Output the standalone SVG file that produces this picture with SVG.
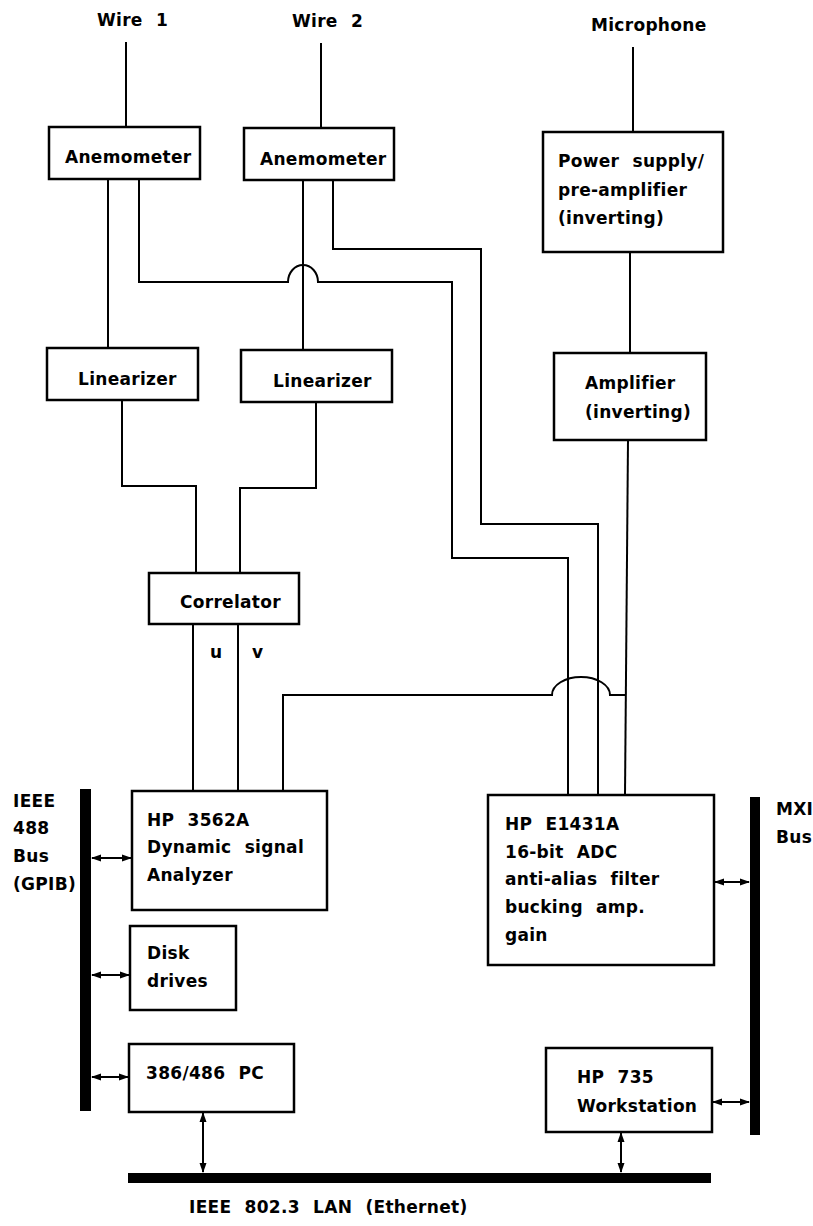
<svg xmlns="http://www.w3.org/2000/svg" width="813" height="1226" viewBox="0 0 813 1226">
<style>
text{font-family:"DejaVu Sans","Liberation Sans",sans-serif;font-weight:bold;font-size:17px;fill:#000;word-spacing:7px;letter-spacing:0.3px}
.box{fill:#fff;stroke:#000;stroke-width:2.5}
.ln{fill:none;stroke:#000;stroke-width:2}
.ar{fill:none;stroke:#000;stroke-width:2;marker-start:url(#ah);marker-end:url(#ah)}
.bus{fill:#000}
</style>
<defs>
<marker id="ah" markerUnits="userSpaceOnUse" markerWidth="10" markerHeight="8" refX="9" refY="4" orient="auto-start-reverse">
<path d="M0,0.5 L10,4 L0,7.5 Z" fill="#000"/>
</marker>
</defs>
<rect width="813" height="1226" fill="#fff"/>
<g id="labels">
<text x="97" y="26">Wire 1</text>
<text x="292" y="27">Wire 2</text>
<text x="591" y="31" style="word-spacing:0">Microphone</text>
<text x="13" y="807">IEEE</text>
<text x="13" y="834">488</text>
<text x="13" y="862">Bus</text>
<text x="13" y="890">(GPIB)</text>
<text x="776" y="815">MXI</text>
<text x="776" y="843">Bus</text>
<text x="189" y="1213">IEEE 802.3 LAN (Ethernet)</text>
<text x="210" y="658">u</text>
<text x="252" y="658">v</text>
</g>
<g id="connectors">
<path class="ln" d="M126 42 V127"/>
<path class="ln" d="M321 43 V128"/>
<path class="ln" d="M633 47 V132"/>
<path class="ln" d="M108 179 V348"/>
<path class="ln" d="M139 179 V282 H288 A15 17 0 0 1 318 282 H452 V558 H568 V795"/>
<path class="ln" d="M303 180 V350"/>
<path class="ln" d="M333 180 V249 H481 V524 H598 V795"/>
<path class="ln" d="M122 400 V486 H196 V573"/>
<path class="ln" d="M316 402 V488 H240 V573"/>
<path class="ln" d="M193 624 V791"/>
<path class="ln" d="M238 624 V791"/>
<path class="ln" d="M630 252 V353"/>
<path class="ln" d="M628 440 L625 795"/>
<path class="ln" d="M283 791 V695 H552 A29 18 0 0 1 610 695 H626"/>
<rect class="bus" x="80" y="789" width="11" height="322"/>
<rect class="bus" x="750" y="797" width="10" height="338"/>
<rect class="bus" x="128" y="1173" width="583" height="10"/>
<path class="ar" d="M92 858 H131"/>
<path class="ar" d="M92 975 H129"/>
<path class="ar" d="M92 1077 H128"/>
<path class="ar" d="M715 882 H749"/>
<path class="ar" d="M713 1102 H749"/>
<path class="ar" d="M203 1113 V1172"/>
<path class="ar" d="M621 1133 V1172"/>
</g>
<g id="anemometer1">
<rect class="box" x="49" y="127" width="151" height="52"/>
<text x="65" y="163">Anemometer</text>
</g>
<g id="anemometer2">
<rect class="box" x="244" y="128" width="150" height="52"/>
<text x="260" y="165">Anemometer</text>
</g>
<g id="preamp">
<rect class="box" x="543" y="132" width="180" height="120"/>
<text x="558" y="167">Power supply/</text>
<text x="558" y="196">pre-amplifier</text>
<text x="558" y="224">(inverting)</text>
</g>
<g id="linearizer1">
<rect class="box" x="47" y="348" width="151" height="52"/>
<text x="78" y="385">Linearizer</text>
</g>
<g id="linearizer2">
<rect class="box" x="241" y="350" width="151" height="52"/>
<text x="273" y="387">Linearizer</text>
</g>
<g id="amplifier">
<rect class="box" x="554" y="353" width="152" height="87"/>
<text x="585" y="389">Amplifier</text>
<text x="585" y="418">(inverting)</text>
</g>
<g id="correlator">
<rect class="box" x="149" y="573" width="150" height="51"/>
<text x="180" y="608">Correlator</text>
</g>
<g id="hp3562a">
<rect class="box" x="132" y="791" width="195" height="119"/>
<text x="147" y="826">HP 3562A</text>
<text x="147" y="853">Dynamic signal</text>
<text x="147" y="881">Analyzer</text>
</g>
<g id="adc">
<rect class="box" x="488" y="795" width="226" height="170"/>
<text x="505" y="830">HP E1431A</text>
<text x="505" y="858">16-bit ADC</text>
<text x="505" y="885">anti-alias filter</text>
<text x="505" y="913">bucking amp.</text>
<text x="505" y="941">gain</text>
</g>
<g id="disk">
<rect class="box" x="130" y="926" width="106" height="84"/>
<text x="147" y="959">Disk</text>
<text x="147" y="987">drives</text>
</g>
<g id="pc">
<rect class="box" x="129" y="1044" width="165" height="68"/>
<text x="146" y="1079">386/486 PC</text>
</g>
<g id="workstation">
<rect class="box" x="546" y="1048" width="166" height="84"/>
<text x="577" y="1083">HP 735</text>
<text x="577" y="1112">Workstation</text>
</g>
</svg>
